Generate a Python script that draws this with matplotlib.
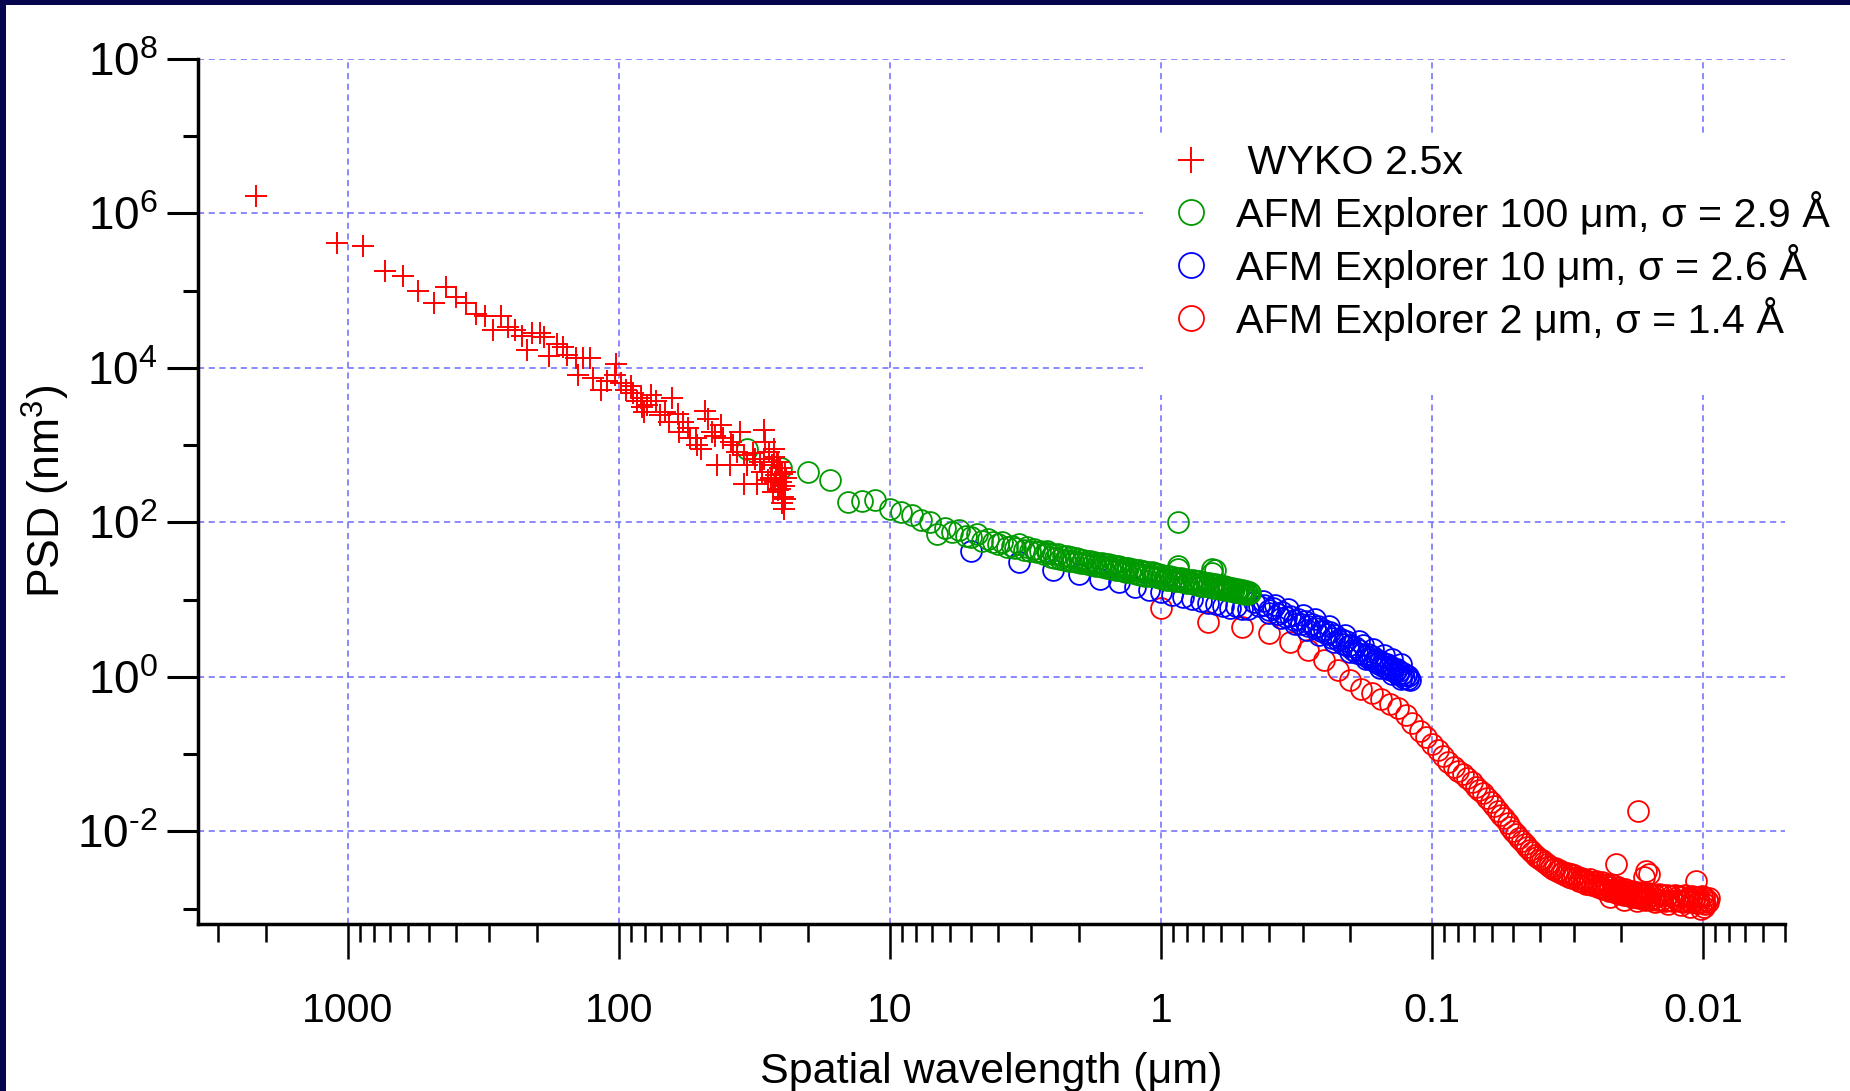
import numpy as np
import matplotlib
matplotlib.use("Agg")
import matplotlib.pyplot as plt
from matplotlib.patches import Rectangle
from matplotlib.ticker import FixedLocator, FixedFormatter, LogLocator, NullFormatter

# data (wavelength in um, PSD in nm^3)
wyko_wl = [2170, 1090, 877, 726, 627, 548, 481, 434, 398, 366, 335, 312, 272, 291, 256,
           241, 227, 208, 195, 188, 218, 169, 160, 181, 155, 144, 135, 128, 141, 124,
           116, 110, 102, 103, 98, 94, 88.5, 83, 81, 76, 73, 67.5, 63.4, 60.6, 58,
           55.3, 48.2, 52, 49.7, 45.4, 42, 41.4, 43.4, 39, 37.8, 35.6, 34.5, 33.5, 34.5, 31,
           31.5, 29.2, 29, 28.8, 27.9, 27.1, 26.7, 26.3, 25.5, 24.7, 25.1, 24.4, 25.9, 29.6, 36.7,
           51.3, 54.5, 59.7, 65.3, 70.5, 78.4, 85.9, 90, 82, 27.5, 26, 25, 24.5, 25.8,
           24.9, 24.6, 24.3, 26.8, 28.2, 27, 25.3, 24.2, 26.4, 32, 30, 38.5, 44, 47]
wyko_psd = [1.7e6, 4.1e5, 3.75e5, 1.8e5, 1.55e5, 9.8e4, 7.0e4, 1.1e5, 8.4e4, 7.0e4, 5.0e4, 4.7e4, 4.7e4, 3.07e4, 3.4e4,
            3.07e4, 2.6e4, 2.8e4, 2.8e4, 2.5e4, 1.73e4, 2.06e4, 1.86e4, 1.42e4, 1.46e4, 1.35e4, 1.35e4, 1.35e4, 8.2e3, 7.4e3,
            5.2e3, 6.7e3, 1.13e4, 8.2e3, 6.4e3, 5.2e3, 4.7e3, 4.1e3, 2.7e3, 4.5e3, 3.7e3, 2.7e3, 4.1e3, 2.5e3, 2.0e3,
            1.65e3, 2.8e3, 1.22e3, 905, 1.5e3, 1.8e3, 1.22e3, 550, 550, 1.0e3, 1.5e3, 740, 550, 316, 316,
            670, 670, 1.57e3, 1.1e3, 820, 550, 905, 406, 272, 212, 333, 450, 607, 450, 820,
            1.0e3, 1.22e3, 1.5e3, 2.0e3, 2.46e3, 3.3e3, 3.7e3, 5.8e3, 3.16e3, 380, 600, 420, 300, 260,
            180, 150, 200, 700, 350, 250, 500, 380, 330, 800, 600, 1.1e3, 1.3e3, 2.2e3]

afm100_wl = [33.5, 25.1, 20.1, 16.6, 14.3, 12.7, 11.3, 10.0, 9.1, 8.3, 7.7, 7.1, 6.7, 6.25, 5.9,
             5.55, 5.25, 5.0, 4.75, 4.55, 4.35, 4.15, 4.0, 3.85, 3.7, 3.55, 3.45, 3.33, 3.2, 3.12,
             3.03, 2.94, 2.86, 2.78, 2.7, 2.63,
             2.6, 2.55, 2.5, 2.45, 2.4, 2.35, 2.3, 2.26, 2.22, 2.18, 2.14, 2.1, 2.06, 2.03, 2.0,
             1.97, 1.94, 1.91, 1.88, 1.85, 1.82, 1.79, 1.76, 1.73, 1.7, 1.68, 1.65, 1.63, 1.6, 1.58,
             1.56, 1.54, 1.52, 1.5, 1.48, 1.46, 1.44, 1.42, 1.4, 1.38, 1.36, 1.34, 1.32, 1.3, 1.28,
             1.26, 1.24, 1.22, 1.2, 1.18, 1.16, 1.14, 1.12, 1.1, 1.08, 1.065, 1.05, 1.035, 1.02, 1.005,
             0.99, 0.975, 0.96, 0.945, 0.93, 0.915, 0.9, 0.885, 0.87, 0.855, 0.84, 0.826, 0.813, 0.8, 0.787,
             0.775, 0.763, 0.752, 0.741, 0.73, 0.72, 0.709, 0.699, 0.69, 0.68, 0.671, 0.662, 0.654, 0.645, 0.637,
             0.629, 0.621, 0.613, 0.606, 0.599, 0.592, 0.585, 0.578, 0.571, 0.565, 0.559, 0.552, 0.546, 0.541, 0.535,
             0.529, 0.524, 0.518, 0.513, 0.508, 0.503, 0.498, 0.493, 0.488, 0.483, 0.478, 0.474, 0.47,
             0.867, 0.867, 0.867, 0.645, 0.645, 0.63]
afm100_psd = [900, 500, 445, 357, 185, 191, 195, 149, 135, 126, 107, 100, 71, 85, 74,
              80, 66, 64, 70, 58, 61, 55, 52, 56, 48, 50, 47, 52, 44, 48,
              43, 45, 41, 43, 39, 42,
              40, 36, 38.5, 35, 39, 34, 37, 33, 36.5, 32, 35.5, 31.5, 34.5, 30.5, 33.5,
              30, 33, 29.5, 32, 29, 31.5, 28, 31, 27.5, 30, 27, 29.5, 26.5, 29, 26,
              28.5, 25.5, 28, 25, 27.5, 24.5, 27, 24, 26.5, 23.5, 26, 23, 25.5, 22.5, 25,
              22, 24.5, 21.5, 24, 21, 23.5, 20.5, 23, 20.5, 22.5, 20, 22, 19.5, 21.5, 19,
              21, 18.5, 20.5, 18.2, 20, 17.8, 19.6, 17.5, 19.2, 17.2, 18.8, 16.8, 18.5, 16.5, 18.2,
              16.2, 17.8, 15.8, 17.5, 15.5, 17.2, 15.2, 16.9, 15, 16.6, 14.8, 16.3, 14.5, 16, 14.2,
              15.7, 14, 15.4, 13.8, 15.1, 13.6, 14.8, 13.4, 14.6, 13.2, 14.3, 13, 14.1, 12.8, 13.9,
              12.6, 13.7, 12.4, 13.5, 12.3, 13.3, 12.1, 13.1, 12, 12.9, 11.9, 12.7, 12.2,
              100, 27.5, 25, 24.9, 22.4, 24]

afm10_wl = [5.0, 3.33, 2.5, 2.0, 1.67, 1.43, 1.25, 1.11, 1.0, 0.91, 0.83, 0.77, 0.71, 0.67, 0.625,
            0.59, 0.556, 0.526, 0.5, 0.476, 0.455, 0.435, 0.417, 0.4, 0.385, 0.37, 0.357, 0.345, 0.333, 0.323,
            0.313, 0.303, 0.294, 0.286, 0.278, 0.27, 0.263, 0.256, 0.25, 0.244, 0.238, 0.233, 0.227, 0.222, 0.217,
            0.213, 0.208, 0.204, 0.2, 0.196, 0.192, 0.189, 0.185, 0.182, 0.179, 0.175, 0.172, 0.169, 0.167, 0.164,
            0.161, 0.159, 0.156, 0.154, 0.152, 0.149, 0.147, 0.145, 0.143, 0.141, 0.139, 0.137, 0.135, 0.133, 0.132,
            0.13, 0.128, 0.127, 0.125, 0.123, 0.122, 0.12,
            0.42, 0.38, 0.34, 0.3, 0.27, 0.24, 0.21, 0.185, 0.165, 0.15, 0.14, 0.13,
            0.4, 0.36, 0.32, 0.29, 0.26, 0.23, 0.2, 0.175, 0.155, 0.14, 0.13]
afm10_psd = [43, 31, 24.5, 21.5, 18.5, 16.7, 14.5, 13.5, 12.4, 11.5, 10.8, 10.2, 9.6, 9.0, 8.7,
             8.3, 7.9, 8.2, 7.6, 7.5, 9.4, 8.2, 8.5, 7.4, 7.7, 6.6, 7.0, 5.9, 6.1, 5.4,
             5.6, 4.9, 5.3, 4.5, 4.8, 4.3, 4.6, 3.9, 4.1, 3.6, 3.8, 3.2, 3.5, 3.0, 3.1,
             2.7, 2.9, 2.5, 2.6, 2.25, 2.4, 2.05, 2.2, 2.0, 2.55, 1.85, 2.0, 1.72, 1.85, 1.6,
             1.7, 1.5, 1.62, 1.42, 1.52, 1.36, 1.45, 1.28, 1.38, 1.22, 1.3, 1.15, 1.25, 1.1, 1.18,
             1.05, 1.12, 0.98, 1.06, 0.95, 1.02, 0.92,
             9.6, 8.6, 7.6, 6.4, 5.6, 4.5, 3.5, 2.9, 2.3, 1.9, 1.7, 1.45,
             6.8, 5.8, 4.9, 4.1, 3.5, 2.8, 2.1, 1.7, 1.3, 1.1, 0.95]

afm2_wl = [1.0, 0.667, 0.5, 0.4, 0.333, 0.286, 0.25, 0.222, 0.2, 0.182, 0.167, 0.154, 0.143, 0.133, 0.125,
           0.118, 0.111, 0.105, 0.1, 0.095, 0.091, 0.087, 0.083, 0.08, 0.077, 0.074, 0.071, 0.069, 0.067, 0.0645,
           0.0625, 0.0606, 0.0588, 0.0571, 0.0556, 0.0541, 0.0526, 0.0513, 0.05, 0.0488, 0.0476, 0.0465, 0.0455, 0.0444, 0.0435,
           0.0426, 0.0417, 0.0408, 0.04, 0.0392, 0.0385, 0.0377, 0.037, 0.0364, 0.0357, 0.0351, 0.0345, 0.0339, 0.0333, 0.0328,
           0.0323, 0.0317, 0.0313, 0.0308, 0.0303, 0.0299, 0.0294, 0.029, 0.0286, 0.0282, 0.0278, 0.0274, 0.027, 0.0267, 0.0263,
           0.026, 0.0256, 0.0253, 0.025, 0.0247, 0.0244, 0.0241, 0.0238, 0.0235, 0.0233, 0.023, 0.0227, 0.0225, 0.0222, 0.022,
           0.0217, 0.0215, 0.0213, 0.021, 0.0208, 0.0206, 0.0204, 0.0202, 0.02, 0.0198, 0.0196, 0.0194, 0.0192, 0.019, 0.0189,
           0.0187, 0.0185, 0.0183, 0.0182, 0.018, 0.0178, 0.0177, 0.0175, 0.0174, 0.0172, 0.0171, 0.0169, 0.0168, 0.0167, 0.0165,
           0.0164, 0.0163, 0.0161, 0.016, 0.0157, 0.0155, 0.0152, 0.015, 0.0148, 0.0145, 0.0143, 0.014, 0.0138, 0.0136, 0.0133,
           0.0131, 0.0129, 0.0127, 0.0125, 0.0123, 0.0121, 0.0119, 0.0118, 0.0116, 0.0114, 0.0113, 0.0111, 0.011, 0.0108, 0.0107,
           0.0105, 0.0104, 0.0103, 0.0101, 0.01, 0.0099, 0.0098, 0.0097, 0.0096, 0.0095,
           0.0102, 0.0099, 0.0112, 0.012, 0.0135, 0.015, 0.0175, 0.0195, 0.022,
           0.0174, 0.021, 0.0162, 0.0158, 0.0165, 0.0106]
afm2_psd = [7.9, 5.2, 4.45, 3.7, 2.84, 2.22, 1.64, 1.22, 0.905, 0.706, 0.61, 0.52, 0.45, 0.39, 0.32,
            0.25, 0.2, 0.165, 0.135, 0.112, 0.095, 0.08, 0.0675, 0.06, 0.055, 0.049, 0.043, 0.038, 0.034, 0.031,
            0.027, 0.024, 0.021, 0.0185, 0.0165, 0.0148, 0.013, 0.0115, 0.0102, 0.0092, 0.0082, 0.0074, 0.0068, 0.0062, 0.0058,
            0.0054, 0.005, 0.0047, 0.0044, 0.0042, 0.004, 0.0038, 0.0036, 0.0035, 0.0033, 0.0034, 0.0031, 0.0032, 0.0029, 0.003,
            0.0027, 0.0029, 0.0026, 0.0028, 0.0025, 0.0027, 0.0024, 0.0026, 0.0023, 0.0025, 0.0022, 0.0024, 0.0021, 0.0023, 0.0021,
            0.0024, 0.002, 0.0022, 0.002, 0.0023, 0.0019, 0.0021, 0.0019, 0.0022, 0.0018, 0.002, 0.0018, 0.0021, 0.0017, 0.0019,
            0.0017, 0.002, 0.00165, 0.0018, 0.0016, 0.0019, 0.0016, 0.0018, 0.00155, 0.0017, 0.0015, 0.0018, 0.0015, 0.0017, 0.0015,
            0.00165, 0.00145, 0.0017, 0.0014, 0.0016, 0.0014, 0.00165, 0.0014, 0.0016, 0.00135, 0.0016, 0.0014, 0.00155, 0.00135, 0.0016,
            0.0013, 0.0015, 0.00135, 0.0016, 0.0013, 0.0015, 0.00135, 0.0015, 0.0013, 0.00155, 0.0013, 0.0015, 0.00125, 0.0015, 0.0013,
            0.00145, 0.00125, 0.0015, 0.0013, 0.00145, 0.00125, 0.0014, 0.0012, 0.0015, 0.0013, 0.0014, 0.0012, 0.00145, 0.0013, 0.0014,
            0.00118, 0.0014, 0.0012, 0.00145, 0.0012, 0.0014, 0.00115, 0.0013, 0.0012, 0.00135,
            0.001, 0.00105, 0.00105, 0.0011, 0.00115, 0.0012, 0.00125, 0.0013, 0.0014,
            0.0185, 0.0038, 0.0031, 0.0028, 0.0026, 0.0023]

labels = [" WYKO 2.5x",
          "AFM Explorer 100 μm, σ = 2.9 Å",
          "AFM Explorer 10 μm, σ = 2.6 Å",
          "AFM Explorer 2 μm, σ = 1.4 Å"]

xtick_vals = [1000, 100, 10, 1, 0.1, 0.01]
xtick_labels = ["1000", "100", "10", "1", "0.1", "0.01"]
ytick_vals = [1e-2, 1e0, 1e2, 1e4, 1e6, 1e8]
ytick_labels = ["$10^{\u20102}$", "$10^{0}$", "$10^{2}$", "$10^{4}$", "$10^{6}$", "$10^{8}$"]
ytick_minor = [1e-3, 1e-1, 1e1, 1e3, 1e5, 1e7]

plt.rcParams["font.family"] = "Liberation Sans"
plt.rcParams["mathtext.fontset"] = "custom"
plt.rcParams["mathtext.rm"] = "Liberation Sans"
plt.rcParams["mathtext.default"] = "regular"

navy = "#06064f"
fig = plt.figure(figsize=(18.5, 10.91), dpi=100, facecolor=navy)
fig.add_artist(Rectangle((6 / 1850, 0), 1, 1 - 5 / 1091, transform=fig.transFigure,
                         facecolor="white", edgecolor="none", zorder=-1))

ax = fig.add_axes([198 / 1850, 1 - 924 / 1091, (1785 - 198) / 1850, (924 - 59) / 1091])
ax.set_xscale("log")
ax.set_yscale("log")

h2, = ax.plot(afm2_wl, afm2_psd, "o", mfc="none", mec="#ff0000", ms=15, mew=1.3, zorder=2.1)
h10, = ax.plot(afm10_wl, afm10_psd, "o", mfc="none", mec="#0000ff", ms=15, mew=1.3, zorder=2.2)
h100, = ax.plot(afm100_wl, afm100_psd, "o", mfc="none", mec="#009900", ms=15, mew=1.3, zorder=2.3)
hw, = ax.plot(wyko_wl, wyko_psd, "+", color="#ff0000", ms=16, mew=1.4, zorder=2.4)

ax.set_xlim(3565, 0.00498)
ax.set_ylim(10 ** -3.2, 1e8)

ax.xaxis.set_major_locator(FixedLocator(xtick_vals))
ax.xaxis.set_major_formatter(FixedFormatter(xtick_labels))
ax.xaxis.set_minor_locator(LogLocator(base=10, subs=np.arange(2, 10), numticks=30))
ax.xaxis.set_minor_formatter(NullFormatter())
ax.yaxis.set_major_locator(FixedLocator(ytick_vals))
ax.yaxis.set_major_formatter(FixedFormatter(ytick_labels))
ax.yaxis.set_minor_locator(FixedLocator(ytick_minor))
ax.yaxis.set_minor_formatter(NullFormatter())

ax.tick_params(axis="x", which="major", direction="out", length=25, width=1.8, pad=24, labelsize=29.5)
ax.tick_params(axis="x", which="minor", direction="out", length=13, width=1.8)
ax.tick_params(axis="y", which="major", direction="out", length=22, width=2.2, pad=7, labelsize=33)
ax.tick_params(axis="y", which="minor", direction="out", length=11, width=2.2)

for s in ["top", "right"]:
    ax.spines[s].set_visible(False)
for s in ["left", "bottom"]:
    ax.spines[s].set_linewidth(2.5)

ax.set_axisbelow(True)
ax.grid(True, which="major", color="#6a6aff", linestyle=(0, (4, 3)), linewidth=1.1)

ax.set_xlabel("Spatial wavelength (μm)", fontsize=31, labelpad=16)
ax.set_ylabel("PSD (nm$^{3}$)", fontsize=32, labelpad=4)

# white box behind the legend hides the grid
fig.add_artist(Rectangle((1143 / 1850, 1 - 395 / 1091), 1 - 1143 / 1850, (395 - 136) / 1091,
                         transform=fig.transFigure, facecolor="white", edgecolor="none", zorder=1))
fig.legend([hw, h100, h10, h2], labels, loc="upper left", bbox_to_anchor=(1170 / 1850, 1 - 144 / 1091),
           frameon=False, fontsize=29.7, handlelength=1.0, handletextpad=0.6, labelspacing=0.215,
           borderpad=0, borderaxespad=0, markerscale=1.2)

fig.savefig("out.png", dpi=100, facecolor=navy)
